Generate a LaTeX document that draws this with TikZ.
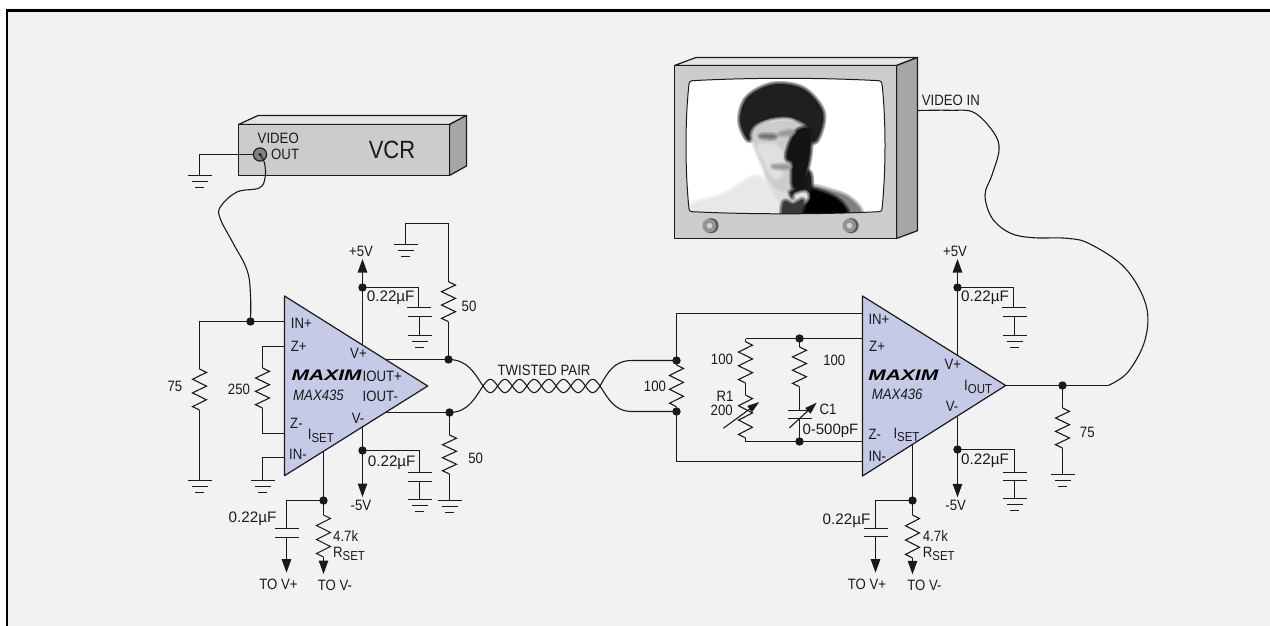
\documentclass[tikz,border=0pt]{standalone}
\usepackage{fontspec}
\setmainfont[FakeStretch=0.88]{Liberation Sans}
\newfontfamily\widef{Liberation Sans}
\usetikzlibrary{arrows.meta,calc}
\definecolor{bgc}{HTML}{F2F2F2}
\definecolor{ink}{HTML}{1A1A1A}
\definecolor{amp}{HTML}{C5CBE6}
\newcommand\fsz[1]{\fontsize{#1}{#1}\selectfont}
\newcommand\sub[1]{\raisebox{-3pt}{\fsz{13}#1}}
\newcommand\cv{{\widef\fsz{15.2}0.22µF}}
\newcommand\gnd[1]{\draw[wire] (#1)+(-12,0) -- +(12,0) (#1)+(-8,6) -- +(8,6) (#1)+(-4.5,12) -- +(4.5,12);}
\newcommand\plates[2]{\draw[wire] (#1)+(-12,0) -- +(12,0) (#2)+(-12,0) -- +(12,0);}
\newcommand\zres[2]{\draw[wire] (#1) -- ($(#1)!1/12!(#2)+(7,0)$) -- ($(#1)!3/12!(#2)+(-7,0)$) -- ($(#1)!5/12!(#2)+(7,0)$) -- ($(#1)!7/12!(#2)+(-7,0)$) -- ($(#1)!9/12!(#2)+(7,0)$) -- ($(#1)!11/12!(#2)+(-7,0)$) -- (#2);}
\newcommand\dotat[1]{\fill[ink] (#1) circle (4.2);}
\newcommand\softshape[2]{%
  \foreach \w in {6,4,2}{\draw[#1,opacity=.33,line width=\w,line join=round] plot[smooth cycle,tension=.6] coordinates {#2};}
  \fill[#1] plot[smooth cycle,tension=.6] coordinates {#2};}
\tikzset{
  x=1pt,y=-1pt,
  wire/.style={draw=ink,line width=1.1},
  arr/.style={wire,-{Triangle[length=13.5pt,width=9.5pt]}},
  tune/.style={wire,-{Triangle[length=12pt,width=7.5pt]}},
  ampbody/.style={draw=ink,fill=amp,line width=1.2},
  boxface/.style={draw=ink,line width=1.2,line join=round},
  lb/.style={inner sep=0pt,anchor=west,text=ink,font=\fsz{15}},
  lc/.style={inner sep=0pt,anchor=center,text=ink,font=\fsz{15}},
  logo/.style={inner sep=0pt,anchor=center,text=black}
}
\begin{document}
\begin{tikzpicture}
\useasboundingbox (0,0) rectangle (1270,626);
\fill[white] (0,0) rectangle (1270,626);
\fill[bgc] (6,8) rectangle (1270,626);
\fill[black] (6,8.7) rectangle (1270,11.7);
\fill[black] (6,8.7) rectangle (8.3,626);

% ---------- VCR
\draw[boxface,fill=black!10] (238.5,124.5) -- (258,115.5) -- (466.5,115.5) -- (449.5,124.5) -- cycle;
\draw[boxface,fill=black!35] (449.5,124.5) -- (466.5,115.5) -- (466.5,166) -- (449.5,175.5) -- cycle;
\draw[boxface,fill=black!20] (238.5,124.5) rectangle (449.5,175.5);
\node[lb] (vcrvideo) at (257.5,138.5) {VIDEO};
\node[lb] (vcrout) at (271,154.5) {OUT};
\node[lc,font=\fsz{25}] (vcrname) at (392,150) {VCR};
\coordinate (jack) at (260,154.5);
\coordinate (jackgnd) at (199.5,175.5);
\draw[wire] (jack) -| (jackgnd);
\gnd{jackgnd}
\draw[ink,fill=black!50,line width=1.1] (jack) circle (6.6);
\fill[ink] (jack) circle (1.7);

% ---------- TV
\draw[boxface,fill=black!10] (674.5,65.5) -- (696,57.5) -- (917.5,57.5) -- (896.5,65.5) -- cycle;
\draw[boxface,fill=black!35] (896.5,65.5) -- (917.5,57.5) -- (917.5,230.7) -- (896.5,238.5) -- cycle;
\draw[boxface,fill=black!20] (674.5,65.5) rectangle (896.5,238.5);
\begin{scope}
\path[clip] (692,80.7) .. controls (750,77.5) and (820,77.5) .. (879,80.7)
  .. controls (881,81) and (881.5,82) .. (882,84)
  .. controls (886,120) and (886,170) .. (882,209)
  .. controls (881.5,211) and (881,211.5) .. (879,211.7)
  .. controls (820,214.5) and (750,214.5) .. (692,211.7)
  .. controls (690,211.5) and (689.5,211) .. (689,209)
  .. controls (685,170) and (685,120) .. (689,84)
  .. controls (689.5,82) and (690,81) .. (692,80.7) -- cycle;
\fill[white] (680,70) rectangle (890,220);
\begin{scope}[shift={(660,40)},x=0.3333pt,y=-0.3333pt]
% shirt
\softshape{black!9}{(92,520) (105,490) (190,465) (280,412) (320,430) (372,500) (375,540) (230,545)}
% jacket: grey rim then black
\softshape{black!50}{(440,445) (520,455) (575,480) (600,525) (500,545) (420,535)}
\softshape{black}{(430,445) (500,462) (545,490) (560,530) (480,545) (415,535) (425,480)}
% neck left
\softshape{black!14}{(320,400) (400,430) (395,470) (368,490)}
% neck shadow
\softshape{black!90}{(392,430) (445,395) (452,445) (425,462) (398,472)}
% collar right
\softshape{black!10}{(405,468) (435,458) (442,472) (425,490)}
% tie
\softshape{black!78}{(372,485) (400,492) (430,480) (418,525) (370,530)}
% hair
\softshape{black!88}{(258,292) (240,240) (258,178) (310,142) (365,132) (430,147) (478,195) (490,240) (468,303) (440,290) (400,235) (330,235) (285,262) (275,298)}
% face
\softshape{black!20}{(277,285) (295,258) (345,245) (400,245) (440,270) (447,320) (440,375) (420,425) (375,450) (335,425) (305,365) (285,315)}
% cheeks
\softshape{black!12}{(295,320) (340,315) (368,345) (362,405) (340,410) (315,365)}
% shadow of the face
\softshape{black!92}{(392,305) (415,270) (450,270) (450,335) (440,390) (425,440) (400,440) (397,395) (398,368) (380,352)}
% brows and eyes
\softshape{black!55}{(302,286) (342,286) (342,293) (308,292)}
\softshape{black!40}{(358,282) (385,274) (400,276) (385,284)}
% mouth
\softshape{black!40}{(338,379) (370,376) (390,381) (365,385)}
\end{scope}
\end{scope}
\draw[boxface,fill=none,line width=1] (692,80.7) .. controls (750,77.5) and (820,77.5) .. (879,80.7)
  .. controls (881,81) and (881.5,82) .. (882,84)
  .. controls (886,120) and (886,170) .. (882,209)
  .. controls (881.5,211) and (881,211.5) .. (879,211.7)
  .. controls (820,214.5) and (750,214.5) .. (692,211.7)
  .. controls (690,211.5) and (689.5,211) .. (689,209)
  .. controls (685,170) and (685,120) .. (689,84)
  .. controls (689.5,82) and (690,81) .. (692,80.7) -- cycle;
\foreach \kx in {710,850}{
  \fill[black!65] (\kx+1,225.7) circle (7.6);
  \fill[black!42] (\kx-0.8,225.7) circle (6.8);
  \fill[black!18] (\kx-0.5,225.7) circle (2.8);
}
\node[lb] (videoin) at (921.7,100.7) {VIDEO IN};

% ---------- cables
\coordinate (j1in) at (250.5,321.5);
\coordinate (tvin) at (917.5,110.5);
\coordinate (outbend) at (1108.3,385.5);
\draw[wire] plot[smooth,tension=.65] coordinates {(jack) (264.5,163) (265,178) (259,188) (237,192) (221,206) (220,218) (233,243) (247,270) (250.5,295) (j1in)};
\draw[wire] plot[smooth,tension=.6] coordinates {(tvin) (950,110.3) (974,112.5) (994,133) (999,150) (992,175) (985,195) (992,218) (1010,233) (1033,237.7) (1067,238.3) (1090,244) (1125,268) (1146,305) (1145,340) (1128,372) (outbend)};

% ---------- amplifier 1
\draw[ampbody,line join=round] (284.5,296) -- (427.7,386) -- (284.5,475.7) -- cycle;
\coordinate (a1in) at (284.5,321.5);
\coordinate (a1zp) at (284.5,346.5);
\coordinate (a1zm) at (284.5,433.5);
\coordinate (a1nm) at (284.5,457.5);
\coordinate (a1vp) at (362.5,345.3);
\coordinate (a1vm) at (362.5,427);
\coordinate (a1is) at (323.5,451.5);
\coordinate (a1op) at (385,359.5);
\coordinate (a1om) at (385,412.5);
\node[lb] (a1lin) at (290.7,323) {IN+};
\node[lb] (a1lzp) at (290.7,346) {Z+};
\node[lb] (a1lvp) at (350,353.5) {V+};
\node[logo] (a1logo) at (326.7,375.5) {\resizebox{70pt}{10.5pt}{\bfseries\itshape MAXIM}};
\node[lb,font=\fsz{15}\itshape] (a1name) at (293,395) {MAX435};
\node[lb] (a1lop) at (362.5,376) {IOUT+};
\node[lb] (a1lom) at (362.5,396.7) {IOUT-};
\node[lb] (a1lvm) at (351.7,418) {V-};
\node[lb] (a1lzm) at (290,423) {Z-};
\node[lb] (a1lis) at (307.7,436) {I\sub{SET}};
\node[lb] (a1lnm) at (289,454) {IN-};
% input side
\coordinate (r75t) at (199.5,321.5);
\coordinate (r75a) at (199.5,369);
\coordinate (r75b) at (199.5,410);
\coordinate (g75) at (199.5,480.5);
\draw[wire] (a1in) -- (r75t) -- (r75a) (r75b) -- (g75);
\zres{r75a}{r75b}
\gnd{g75}
\dotat{j1in}
\node[lc] (l75a) at (175,386) {75};
\coordinate (rzt) at (262.5,346.5);
\coordinate (rzb) at (262.5,433.5);
\coordinate (rza) at (262.5,368);
\coordinate (rzc) at (262.5,408);
\draw[wire] (a1zp) -- (rzt) -- (rza) (rzc) -- (rzb) -- (a1zm);
\zres{rza}{rzc}
\node[lc] (l250) at (239,389) {250};
\coordinate (gnm) at (262.5,480.5);
\draw[wire] (a1nm) -| (gnm);
\gnd{gnm}
% V+
\coordinate (a1pd) at (362.5,287.5);
\coordinate (a1pt) at (362.5,259);
\coordinate (a1pc) at (418.5,307.5);
\coordinate (a1pc2) at (419.5,316.5);
\coordinate (a1pg) at (419.5,335.5);
\draw[wire] (a1vp) -- (a1pd);
\draw[arr] (a1pd) -- (a1pt);
\draw[wire] (a1pd) -| (a1pc);
\plates{a1pc}{a1pc2}
\draw[wire] (a1pc2) -- (a1pg);
\gnd{a1pg}
\dotat{a1pd}
\node[lc] (a1l5p) at (361,251) {+5V};
\node[lb] (a1lcp) at (366.7,298) {\cv};
% V-
\coordinate (a1nd) at (362.5,450.5);
\coordinate (a1nt) at (362.5,497);
\coordinate (a1nc) at (419.5,472.5);
\coordinate (a1nc2) at (419.5,481.5);
\coordinate (a1ng) at (419.5,499.5);
\draw[wire] (a1vm) -- (a1nd);
\draw[arr] (a1nd) -- (a1nt);
\draw[wire] (a1nd) -| (a1nc);
\plates{a1nc}{a1nc2}
\draw[wire] (a1nc2) -- (a1ng);
\gnd{a1ng}
\dotat{a1nd}
\node[lc] (a1l5n) at (361,505.7) {-5V};
\node[lb] (a1lcn) at (367.7,462.7) {\cv};
% ISET
\coordinate (a1id) at (323.5,500.5);
\coordinate (a1ic) at (286.5,528.5);
\coordinate (a1ic2) at (286.5,537.5);
\coordinate (a1it) at (286.5,572.7);
\coordinate (a1ra) at (323.5,515);
\coordinate (a1rb) at (323.5,557);
\coordinate (a1rt) at (323.5,574);
\draw[wire] (a1is) -- (a1id) -- (a1ra);
\draw[wire] (a1id) -| (a1ic);
\plates{a1ic}{a1ic2}
\draw[arr] (a1ic2) -- (a1it);
\zres{a1ra}{a1rb}
\draw[arr] (a1rb) -- (a1rt);
\dotat{a1id}
\node[lc] (a1lci) at (252.5,519) {\cv};
\node[lc] (a1ltp) at (278.5,584) {TO V+};
\node[lc] (a1ltn) at (335,585.7) {TO V-};
\node[lb] (a1l47) at (333,535.7) {4.7k};
\node[lb] (a1lrs) at (333,554) {R\sub{SET}};
% outputs
\coordinate (upd) at (448.5,359.5);
\coordinate (lod) at (449.5,412.5);
\coordinate (r50t) at (448.5,281.7);
\coordinate (r50b) at (448.5,321.7);
\coordinate (r50c) at (448.5,223.5);
\coordinate (g50c) at (405.5,244.5);
\coordinate (r50d) at (449.5,435);
\coordinate (r50e) at (449.5,474);
\coordinate (g50d) at (449.5,500.5);
\draw[wire] (a1op) -- (upd);
\draw[wire] (a1om) -- (lod);
\draw[wire] (g50c) |- (r50c) -- (r50t) (r50b) -- (upd);
\zres{r50t}{r50b}
\gnd{g50c}
\draw[wire] (lod) -- (r50d) (r50e) -- (g50d);
\zres{r50d}{r50e}
\gnd{g50d}
\dotat{upd}
\dotat{lod}
\node[lc] (l50a) at (469,306.7) {50};
\node[lc] (l50b) at (475.7,458.7) {50};

% ---------- twisted pair
\coordinate (twl) at (483,386);
\coordinate (twr) at (600,386);
\draw[wire] plot[variable=\t,domain=0:8,samples=161,smooth] ({483+\t*14.625},{386-6.6*sin(180*\t)});
\draw[wire] plot[variable=\t,domain=0:8,samples=161,smooth] ({483+\t*14.625},{386+6.6*sin(180*\t)});
\draw[wire] (upd) .. controls (468,359.5) and (475,374) .. (twl);
\draw[wire] (lod) .. controls (468,412.5) and (475,398) .. (twl);
\node[lc] (ltw) at (544,370) {TWISTED PAIR};
% ---------- termination
\coordinate (td1) at (676.5,360.5);
\coordinate (td2) at (676.5,411.5);
\coordinate (bx1) at (676.5,313.5);
\coordinate (bx2) at (676.5,461.5);
\coordinate (a2in) at (862.5,313.5);
\coordinate (a2nm) at (862.5,461.5);
\draw[wire] (twr) .. controls (608,372) and (614,360.5) .. (632,360.5) -- (td1);
\draw[wire] (twr) .. controls (608,398) and (614,411.5) .. (632,411.5) -- (td2);
\draw[wire] (td1) -- (bx1) -- (a2in);
\draw[wire] (td2) -- (bx2) -- (a2nm);
\coordinate (rta) at (676.5,365);
\coordinate (rtb) at (676.5,406.7);
\draw[wire] (td1) -- (rta) (rtb) -- (td2);
\zres{rta}{rtb}
\dotat{td1}
\dotat{td2}
\node[lc] (l100t) at (655,386) {100};
% gain network
\coordinate (a2zp) at (862.5,338.5);
\coordinate (a2zm) at (862.5,441.5);
\coordinate (ntl) at (745.5,338.5);
\coordinate (nbl) at (745.5,441.5);
\coordinate (ntd) at (799.5,338.5);
\coordinate (nbd) at (799.5,441.5);
\draw[wire] (ntl) -- (a2zp);
\draw[wire] (nbl) -- (a2zm);
\coordinate (r1a) at (745.5,341.7);
\coordinate (r1b) at (745.5,383);
\coordinate (r1c) at (745.5,395);
\coordinate (r1d) at (745.5,438);
\draw[wire] (ntl) -- (r1a) (r1b) -- (r1c) (r1d) -- (nbl);
\zres{r1a}{r1b}
\zres{r1c}{r1d}
\coordinate (ta1) at (723.3,428.3);
\coordinate (ta2) at (759.3,402);
\draw[tune] (ta1) -- (ta2);
\coordinate (r2a) at (799.5,347);
\coordinate (r2b) at (799.5,386.7);
\coordinate (c1a) at (799.5,410.5);
\coordinate (c1b) at (799.5,418.5);
\draw[wire] (ntd) -- (r2a) (r2b) -- (c1a) (c1b) -- (nbd);
\zres{r2a}{r2b}
\plates{c1a}{c1b}
\coordinate (tb1) at (789.3,428);
\coordinate (tb2) at (816.7,402.7);
\draw[tune] (tb1) -- (tb2);
\dotat{ntd}
\dotat{nbd}
\node[lc] (l100a) at (722,359.7) {100};
\node[lc] (lr1) at (725,396) {R1};
\node[lc] (l200) at (721.7,410.7) {200};
\node[lc] (l100b) at (834.3,360.7) {100};
\node[lb] (lc1) at (819.3,409.3) {C1};
\node[lb,font=\widef\fsz{15}] (lc1v) at (802.3,431) {0-500pF};

% ---------- amplifier 2
\draw[ampbody,line join=round] (862.5,296) -- (1005.7,385.5) -- (862.5,476) -- cycle;
\coordinate (a2vp) at (957.5,355);
\coordinate (a2vm) at (957.5,416.7);
\coordinate (a2is) at (912.5,445);
\coordinate (a2out) at (1005.7,385.5);
\node[lb] (a2lin) at (868.3,319) {IN+};
\node[lb] (a2lzp) at (869,346) {Z+};
\node[lb] (a2lvp) at (944.3,364) {V+};
\node[logo] (a2logo) at (903.3,375.7) {\resizebox{70pt}{10.5pt}{\bfseries\itshape MAXIM}};
\node[lb,font=\fsz{15}\itshape] (a2name) at (871.7,394.3) {MAX436};
\node[lb] (a2lo) at (964,386.5) {I\sub{OUT}};
\node[lb] (a2lvm) at (945.7,406.7) {V-};
\node[lb] (a2lzm) at (868.3,434.3) {Z-};
\node[lb] (a2lis) at (893.3,435) {I\sub{SET}};
\node[lb] (a2lnm) at (868.3,456.7) {IN-};
% V+
\coordinate (a2pd) at (957.5,287.5);
\coordinate (a2pt) at (957.5,259);
\coordinate (a2pc) at (1013.5,307.5);
\coordinate (a2pc2) at (1014.5,316.5);
\coordinate (a2pg) at (1014.5,335.5);
\draw[wire] (a2vp) -- (a2pd);
\draw[arr] (a2pd) -- (a2pt);
\draw[wire] (a2pd) -| (a2pc);
\plates{a2pc}{a2pc2}
\draw[wire] (a2pc2) -- (a2pg);
\gnd{a2pg}
\dotat{a2pd}
\node[lc] (a2l5p) at (955,251) {+5V};
\node[lb] (a2lcp) at (961,297.7) {\cv};
% V-
\coordinate (a2nd) at (957.5,449.5);
\coordinate (a2nt) at (957.5,497.3);
\coordinate (a2nc) at (1014.5,472.5);
\coordinate (a2nc2) at (1014.5,480.5);
\coordinate (a2ng) at (1014.5,498.5);
\draw[wire] (a2vm) -- (a2nd);
\draw[arr] (a2nd) -- (a2nt);
\draw[wire] (a2nd) -| (a2nc);
\plates{a2nc}{a2nc2}
\draw[wire] (a2nc2) -- (a2ng);
\gnd{a2ng}
\dotat{a2nd}
\node[lc] (a2l5n) at (955.7,505.7) {-5V};
\node[lb] (a2lcn) at (961,460.7) {\cv};
% ISET
\coordinate (a2id) at (912.5,500.5);
\coordinate (a2ic) at (875.5,528.5);
\coordinate (a2ic2) at (875.5,536.5);
\coordinate (a2it) at (875.5,572.7);
\coordinate (a2ra) at (912.5,515);
\coordinate (a2rb) at (912.5,558);
\coordinate (a2rt) at (912.5,574.3);
\draw[wire] (a2is) -- (a2id) -- (a2ra);
\draw[wire] (a2id) -| (a2ic);
\plates{a2ic}{a2ic2}
\draw[arr] (a2ic2) -- (a2it);
\zres{a2ra}{a2rb}
\draw[arr] (a2rb) -- (a2rt);
\dotat{a2id}
\node[lc] (a2lci) at (846.5,521) {\cv};
\node[lc] (a2ltp) at (867,584.3) {TO V+};
\node[lc] (a2ltn) at (924.5,585.7) {TO V-};
\node[lb] (a2l47) at (922.7,535.7) {4.7k};
\node[lb] (a2lrs) at (922.7,554.3) {R\sub{SET}};
% output
\coordinate (od) at (1062.5,385.5);
\coordinate (r3a) at (1062.5,408);
\coordinate (r3b) at (1062.5,448);
\coordinate (g3) at (1062.5,474.5);
\draw[wire] (a2out) -- (outbend);
\draw[wire] (od) -- (r3a) (r3b) -- (g3);
\zres{r3a}{r3b}
\gnd{g3}
\dotat{od}
\node[lc] (l75b) at (1087.3,432.7) {75};
\end{tikzpicture}
\end{document}
